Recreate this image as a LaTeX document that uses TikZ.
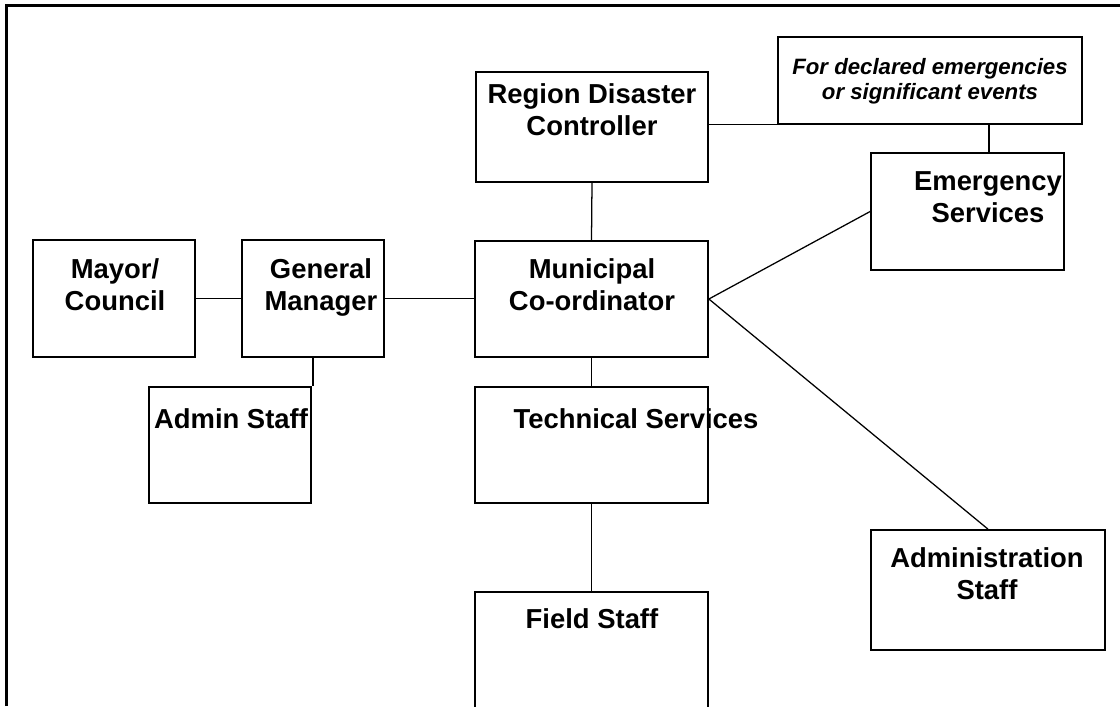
\documentclass[tikz,border=0pt]{standalone}
\usepackage{fontspec}
\setmainfont{Liberation Sans}
\tikzset{
    orgbox/.style={draw, line width=1.2pt, inner sep=0pt},
    lbl/.style={anchor=north, inner sep=0pt, align=center, font=\fontsize{19.5}{22.8}\selectfont\bfseries},
    note/.style={lbl, font=\fontsize{15.8}{17.8}\selectfont\bfseries\itshape},
    link/.style={line width=0.9pt}
}
\begin{document}
\begin{tikzpicture}[x=0.025cm, y=-0.025cm]
        \useasboundingbox (0,0) rectangle (1120,706);
        \draw[line width=2.1pt] (6.5,706) -- (6.5,5.5) -- (1120,5.5);

        % boxes
        \node[orgbox, minimum width=5.8cm, minimum height=2.75cm] (region) at (592,127) {};
        \node[orgbox, minimum width=7.6cm, minimum height=2.175cm] (declared) at (930,80.5) {};
        \node[orgbox, minimum width=4.825cm, minimum height=2.925cm] (emerg) at (967.5,211.5) {};
        \node[orgbox, minimum width=4.05cm, minimum height=2.925cm] (mayor) at (114,298.5) {};
        \node[orgbox, minimum width=3.55cm, minimum height=2.925cm] (gm) at (313,298.5) {};
        \node[orgbox, minimum width=5.825cm, minimum height=2.9cm] (muni) at (591.5,299) {};
        \node[orgbox, minimum width=4.05cm, minimum height=2.9cm] (adminstaff) at (230,445) {};
        \node[orgbox, minimum width=5.825cm, minimum height=2.9cm] (tech) at (591.5,445) {};
        \node[orgbox, minimum width=5.85cm, minimum height=3.0cm] (admin) at (988,590) {};
        \node[orgbox, minimum width=5.825cm, minimum height=2.95cm] (field) at (591.5,651) {};

        % labels
        \node[lbl] (regiontxt) at (592,83) {Region Disaster\\Controller};
        \node[note] (declaredtxt) at (930,58) {For declared emergencies\\or significant events};
        \node[lbl] (emergtxt) at (988,171) {Emergency\\Services};
        \node[lbl] (mayortxt) at (115,258) {Mayor/\\Council};
        \node[lbl] (gmtxt) at (321,258) {General\\Manager};
        \node[lbl] (munitxt) at (592,258) {Municipal\\Co-ordinator};
        \node[lbl] (adminstafftxt) at (231,408) {Admin Staff};
        \node[lbl] (techtxt) at (636,408) {Technical Services};
        \node[lbl] (fieldtxt) at (592,608) {Field Staff};
        \node[lbl] (admintxt) at (987,547) {Administration\\Staff};

        % links
        \coordinate (declaredtap) at (989,124);
        \draw[link] (mayor.east) -- (gm.west);
        \draw[link] (gm.east) -- (gm.east -| muni.west);
        \draw[link] (gm.south) -- (gm.south |- adminstaff.north);
        \draw[link] (region.south) -- (muni.north);
        \draw[link] (declared.south west) -- (declared.south west -| region.east);
        \draw[link] (declaredtap) -- (declaredtap |- emerg.north);
        \draw[link] (muni.east) -- (emerg.west);
        \draw[link] (muni.east) -- (admin.north);
        \draw[link] (muni.south) -- (tech.north);
        \draw[link] (tech.south) -- (field.north);
    \end{tikzpicture}
\end{document}
